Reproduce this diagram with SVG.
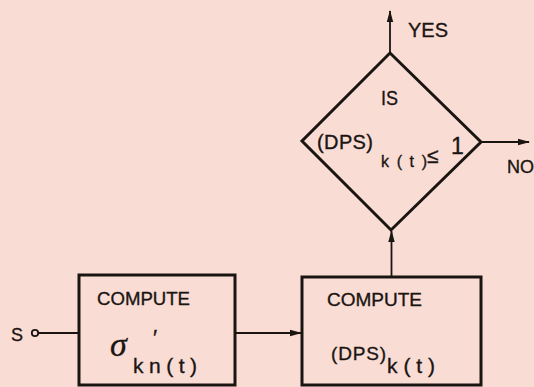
<svg xmlns="http://www.w3.org/2000/svg" width="534" height="387" viewBox="0 0 534 387">
  <style>
    .bg { fill: #f9ddd5; }
    .shape { fill: none; stroke: #1b1512; stroke-width: 3; stroke-linejoin: miter; }
    .wire { fill: none; stroke: #1b1512; stroke-width: 1.8; }
    .lbl { font-family: "Liberation Sans", Arial, sans-serif; fill: #1b1512; stroke: #1b1512; stroke-width: 0.35; }
    .greek { font-family: "Liberation Serif", "DejaVu Serif", serif; font-style: italic; fill: #1b1512; stroke: #1b1512; stroke-width: 0.3; }
  </style>
  <defs>
    <marker id="arrow" viewBox="0 0 12 8" refX="11" refY="4" markerWidth="12" markerHeight="8" markerUnits="userSpaceOnUse" orient="auto">
      <path d="M0,0.8 L12,4 L0,7.2 z" fill="#1b1512"/>
    </marker>
  </defs>

  <rect class="bg" x="0" y="0" width="534" height="387"/>

  <g id="connectors">
    <!-- input terminal S -->
    <circle cx="35" cy="333" r="3.2" fill="none" stroke="#1b1512" stroke-width="1.8"/>
    <line class="wire" x1="38.5" y1="333" x2="79" y2="333"/>
    <!-- box 1 to box 2 -->
    <line class="wire" x1="235" y1="333" x2="301" y2="333" marker-end="url(#arrow)"/>
    <!-- box 2 up to decision -->
    <line class="wire" x1="391.5" y1="277" x2="391.5" y2="231" marker-end="url(#arrow)"/>
    <!-- YES exit -->
    <line class="wire" x1="390" y1="53" x2="390" y2="11" marker-end="url(#arrow)"/>
    <!-- NO exit -->
    <line class="wire" x1="481" y1="142" x2="529" y2="142" marker-end="url(#arrow)"/>
  </g>

  <g id="input-label">
    <text class="lbl" x="11" y="341" font-size="18">S</text>
  </g>

  <g id="compute-sigma">
    <rect class="shape" x="79" y="275" width="156" height="110"/>
    <text class="lbl" x="97" y="305" font-size="18.5" textLength="93" lengthAdjust="spacingAndGlyphs">COMPUTE</text>
    <text class="greek" x="110" y="356" font-size="34">σ</text>
    <text class="lbl" x="153" y="345" font-size="22">′</text>
    <text class="lbl" x="133" y="373" font-size="21" textLength="64" lengthAdjust="spacing">kn(t)</text>
  </g>

  <g id="compute-dps">
    <rect class="shape" x="302" y="277" width="179" height="108"/>
    <text class="lbl" x="327" y="306" font-size="18.5" textLength="95" lengthAdjust="spacingAndGlyphs">COMPUTE</text>
    <text class="lbl" x="331" y="360" font-size="19" textLength="55" lengthAdjust="spacing">(DPS)</text>
    <text class="lbl" x="387" y="373" font-size="21" textLength="48" lengthAdjust="spacing">k(t)</text>
  </g>

  <g id="decision">
    <polygon class="shape" points="390,53 481,142 391,230 302,141"/>
    <text class="lbl" x="381" y="105" font-size="20" textLength="17" lengthAdjust="spacingAndGlyphs">IS</text>
    <text class="lbl" x="317" y="149" font-size="20" textLength="56" lengthAdjust="spacing">(DPS)</text>
    <text class="lbl" x="381" y="167" font-size="16" textLength="46" lengthAdjust="spacing">k(t)</text>
    <text class="lbl" x="427" y="163" font-size="21">≤</text>
    <text class="lbl" x="451" y="154" font-size="23">1</text>
    <text class="lbl" x="408" y="37" font-size="21" textLength="40" lengthAdjust="spacingAndGlyphs">YES</text>
    <text class="lbl" x="507" y="173" font-size="18">NO</text>
  </g>
</svg>
